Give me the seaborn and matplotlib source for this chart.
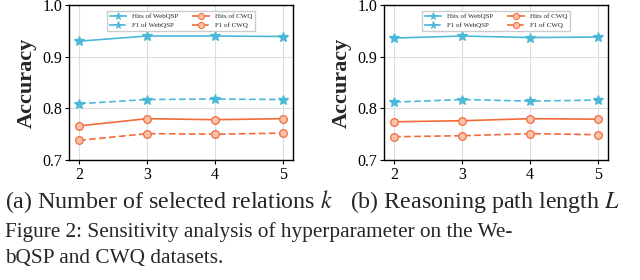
import matplotlib
matplotlib.use("Agg")
import matplotlib.pyplot as plt
import seaborn as sns
import pandas as pd

x_vals = [2, 3, 4, 5]
series_names = ["Hits of WebQSP", "F1 of WebQSP", "Hits of CWQ", "F1 of CWQ"]

# (a) Number of selected relations k
a_hits_webqsp = [0.930, 0.940, 0.940, 0.939]
a_f1_webqsp = [0.809, 0.817, 0.818, 0.817]
a_hits_cwq = [0.766, 0.780, 0.778, 0.780]
a_f1_cwq = [0.738, 0.751, 0.750, 0.752]

# (b) Reasoning path length L
b_hits_webqsp = [0.936, 0.940, 0.937, 0.938]
b_f1_webqsp = [0.812, 0.817, 0.814, 0.816]
b_hits_cwq = [0.774, 0.776, 0.780, 0.779]
b_f1_cwq = [0.745, 0.747, 0.751, 0.749]

y_ticks = [0.7, 0.8, 0.9, 1.0]
caption_a = r"(a) Number of selected relations $k$"
caption_b = r"(b) Reasoning path length $L$"
fig_caption_1 = "Figure 2: Sensitivity analysis of hyperparameter on the We-"
fig_caption_2 = "bQSP and CWQ datasets."

sns.set_theme(style="whitegrid")
plt.rcParams["font.family"] = ["Liberation Serif", "DejaVu Serif"]
plt.rcParams["mathtext.fontset"] = "stix"

cyan = "#4cb8d8"
orange = "#f26b3a"
colors = {"Hits of WebQSP": cyan, "F1 of WebQSP": cyan, "Hits of CWQ": orange, "F1 of CWQ": orange}
markers = {"Hits of WebQSP": "*", "F1 of WebQSP": "*", "Hits of CWQ": "o", "F1 of CWQ": "o"}
dashes = {"Hits of WebQSP": (1, 0), "F1 of WebQSP": (4, 2), "Hits of CWQ": (1, 0), "F1 of CWQ": (4, 2)}

def make_df(vals):
    rows = []
    for name, ys in zip(series_names, vals):
        for xv, yv in zip(x_vals, ys):
            rows.append({"x": xv, "y": yv, "series": name})
    return pd.DataFrame(rows)

def style_line(line, scale=1.0):
    c = line.get_color()
    line.set_markeredgecolor(c)
    line.set_markeredgewidth(0.9 * scale)
    if line.get_marker() == "o":
        line.set_markerfacecolor("#f9c2ab")
        line.set_markersize(5.5 * scale)
    elif line.get_marker() == "*":
        line.set_markerfacecolor(c)
        line.set_markersize(7 * scale)

fig = plt.figure(figsize=(6.4, 2.8), dpi=100)
ax_a = fig.add_axes([69/640, 1-160/280, 224/640, 155/280])
ax_b = fig.add_axes([384/640, 1-160/280, 224/640, 155/280])

for ax, vals in [(ax_a, [a_hits_webqsp, a_f1_webqsp, a_hits_cwq, a_f1_cwq]),
                 (ax_b, [b_hits_webqsp, b_f1_webqsp, b_hits_cwq, b_f1_cwq])]:
    df = make_df(vals)
    sns.lineplot(data=df, x="x", y="y", hue="series", style="series",
                 palette=colors, markers=markers, dashes=dashes, ax=ax,
                 linewidth=1.2)
    h, l = ax.get_legend_handles_labels()
    for line in ax.lines:
        style_line(line)
    for line in h:
        if hasattr(line, "get_marker"):
            style_line(line, 0.8)
    ax.set_ylim(0.7, 1.0)
    ax.set_yticks(y_ticks)
    ax.set_yticklabels([f"{t:.1f}" for t in y_ticks])
    ax.set_xticks(x_vals)
    ax.set_xlim(1.85, 5.15)
    ax.set_xlabel("")
    ax.set_ylabel("Accuracy", fontsize=16, fontweight="bold", labelpad=4)
    ax.tick_params(axis="both", labelsize=11.5, length=3, width=0.8, bottom=True, left=True, pad=2, colors="black")
    for s in ax.spines.values():
        s.set_color("black")
        s.set_linewidth(1.0)
    ax.grid(True, color="#dddddd", linewidth=0.8)
    ax.set_facecolor("white")
    ax.legend(h, l, ncol=2, fontsize=5, loc="upper center", bbox_to_anchor=(0.5, 0.985),
              frameon=True, edgecolor="#cccccc", fancybox=False, handlelength=2.5,
              borderpad=0.4, labelspacing=0.4, columnspacing=2.0, framealpha=1)

fig.text(0.008, 1-208/280, caption_a, fontsize=17.3, va="baseline", ha="left")
fig.text(350/640, 1-208/280, caption_b, fontsize=17.3, va="baseline", ha="left")
fig.text(0.008, 1-237/280, fig_caption_1, fontsize=15.3, va="baseline", ha="left")
fig.text(0.008, 1-263/280, fig_caption_2, fontsize=15.3, va="baseline", ha="left")

fig.savefig("out.png", dpi=100)
